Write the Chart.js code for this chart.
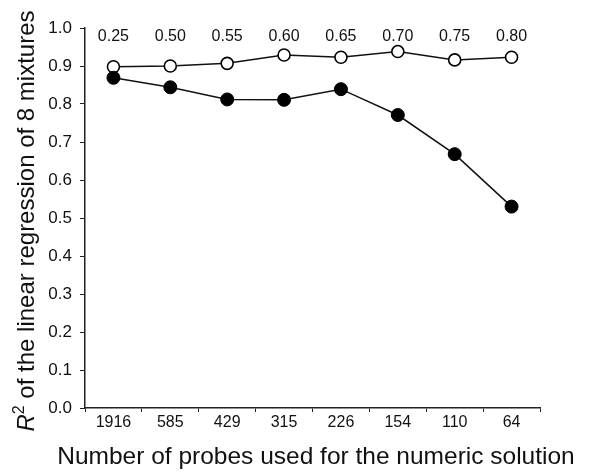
<!DOCTYPE html>
<html>
<head>
<meta charset="utf-8">
<script src="https://cdn.jsdelivr.net/npm/chart.js@4"></script>
<style>
  body { margin: 0; background: #fff; }
  canvas { display: block; }
</style>
</head>
<body>
<canvas id="r2Chart" width="589" height="472"></canvas>
<script>
const probes = ['1916', '585', '429', '315', '226', '154', '110', '64'];
const thresholds = ['0.25', '0.50', '0.55', '0.60', '0.65', '0.70', '0.75', '0.80'];
const openValues = [0.898, 0.900, 0.907, 0.929, 0.923, 0.938, 0.916, 0.923];
const filledValues = [0.869, 0.844, 0.812, 0.811, 0.839, 0.771, 0.668, 0.530];
const yTicks = [0, 0.1, 0.2, 0.3, 0.4, 0.5, 0.6, 0.7, 0.8, 0.9, 1.0];

const fontFamily = '"Liberation Sans", Arial, sans-serif';

// top row of threshold labels + both axis titles
const extraText = {
  id: 'extraText',
  afterDraw(chart) {
    const ctx = chart.ctx;
    const xs = chart.scales.x;
    const ys = chart.scales.y;
    ctx.save();
    ctx.fillStyle = '#111';
    ctx.font = '16px ' + fontFamily;
    ctx.textAlign = 'center';
    ctx.textBaseline = 'middle';
    thresholds.forEach((t, i) => {
      ctx.fillText(t, xs.getPixelForValue(i), ys.getPixelForValue(1.0) + 9);
    });

    // x title
    ctx.font = '24.5px ' + fontFamily;
    ctx.fillText('Number of probes used for the numeric solution', 316, 457);

    // y title with italic R and superscript 2
    const big = '24px ' + fontFamily;
    const ital = 'italic 24px ' + fontFamily;
    const sup = '16px ' + fontFamily;
    const rest = ' of the linear regression of 8 mixtures';
    ctx.font = ital; const wR = ctx.measureText('R').width;
    ctx.font = sup; const w2 = ctx.measureText('2').width;
    ctx.font = big; const wRest = ctx.measureText(rest).width;
    const total = wR + w2 + wRest;
    ctx.translate(27, 221);
    ctx.rotate(-Math.PI / 2);
    ctx.textAlign = 'left';
    let x0 = -total / 2;
    ctx.font = ital; ctx.fillText('R', x0, 0); x0 += wR;
    ctx.font = sup; ctx.fillText('2', x0, -7); x0 += w2;
    ctx.font = big; ctx.fillText(rest, x0, 0);
    ctx.restore();
  }
};

const r2Chart = new Chart(document.getElementById('r2Chart').getContext('2d'), {
  type: 'line',
  data: {
    labels: probes,
    datasets: [
      {
        label: 'filled',
        data: filledValues,
        borderColor: '#111',
        borderWidth: 1.5,
        backgroundColor: '#000',
        pointBackgroundColor: '#000',
        pointBorderColor: '#000',
        pointBorderWidth: 1,
        pointRadius: 6.5,
        tension: 0
      },
      {
        label: 'open',
        data: openValues,
        borderColor: '#111',
        borderWidth: 1.5,
        pointBackgroundColor: '#fff',
        pointBorderColor: '#000',
        pointBorderWidth: 1.6,
        pointRadius: 6,
        tension: 0
      }
    ]
  },
  options: {
    responsive: false,
    animation: false,
    layout: { padding: { left: 0, right: 49, top: 28, bottom: 0 } },
    plugins: {
      legend: { display: false },
      title: { display: false },
      tooltip: { enabled: false }
    },
    scales: {
      x: {
        type: 'category',
        offset: true,
        grid: {
          offset: true,
          drawOnChartArea: false,
          drawTicks: true,
          tickLength: 4,
          color: '#222'
        },
        border: { display: true, color: '#222', width: 1.5 },
        ticks: {
          color: '#111',
          font: { size: 16, family: fontFamily },
          padding: 1,
          maxRotation: 0
        },
        afterFit(scale) { scale.height = 64; }
      },
      y: {
        min: 0,
        max: 1.0,
        afterBuildTicks(scale) { scale.ticks = yTicks.map(v => ({ value: v })); },
        grid: {
          drawOnChartArea: false,
          drawTicks: true,
          tickLength: 5,
          color: '#222'
        },
        border: { display: true, color: '#222', width: 1.5 },
        ticks: {
          color: '#111',
          font: { size: 17, family: fontFamily },
          padding: 8,
          callback: v => v.toFixed(1)
        },
        afterFit(scale) { scale.width = 85; }
      }
    }
  },
  plugins: [extraText]
});
</script>
</body>
</html>
